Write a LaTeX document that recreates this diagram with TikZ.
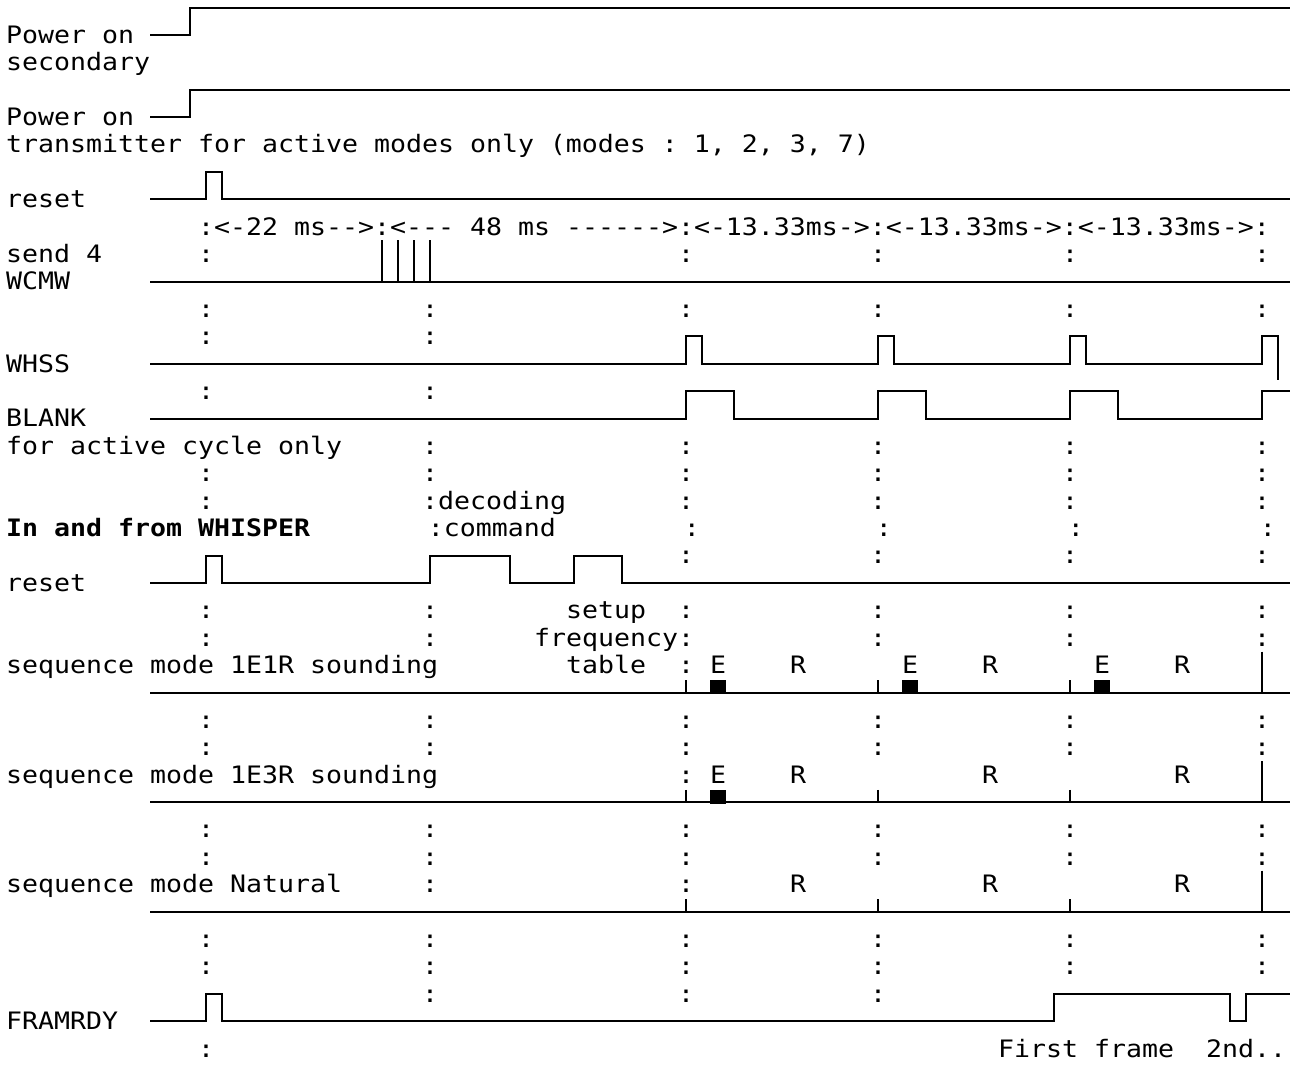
\documentclass[tikz,border=0pt]{standalone}
\usepackage{fontspec}
\setmonofont[FakeStretch=1.107]{DejaVu Sans Mono}
\usetikzlibrary{positioning}

\begin{document}
\begin{tikzpicture}[
        x=16pt, y=-27.4pt,
        font=\ttfamily\fontsize{24}{28}\selectfont,
        lbl/.style={
            anchor=base west,
            inner sep=0pt
        },
        sig/.style={
            line width=2pt,
            line join=miter
        },
        burst/.style={
            fill=black
        }
    ]

    \useasboundingbox (-0.875,-1.277) rectangle (79.75,37.59);

    % Signalnamen
    \node[lbl] (pwrsec) at (-0.5,0.3) {Power on};
    \node[lbl] (secondary) at (-0.5,1.3) {secondary};
    \node[lbl] (pwrtx) at (-0.5,3.3) {Power on};
    \node[lbl] (transmitter) at (-0.5,4.3) {transmitter for active modes only (modes : 1, 2, 3, 7)};
    \node[lbl] (resetA) at (-0.5,6.3) {reset};
    \node[lbl] (timing) at (11.5,7.3) {:<-22 ms-->:<--- 48 ms ------>:<-13.33ms->:<-13.33ms->:<-13.33ms->:};
    \node[lbl] (send) at (-0.5,8.3) {send 4};
    \node[lbl] (wcmw) at (-0.5,9.3) {WCMW};
    \node[lbl] (whss) at (-0.5,12.3) {WHSS};
    \node[lbl] (blank) at (-0.5,14.3) {BLANK};
    \node[lbl] (activecyc) at (-0.5,15.3) {for active cycle only};
    \node[lbl] (decoding) at (25.5,17.3) {:decoding};
    \node[lbl, font=\ttfamily\bfseries\fontsize{24}{28}\selectfont] (whisper) at (-0.5,18.3) {In and from WHISPER};
    \node[lbl] (command) at (25.85,18.3) {:command};
    \node[lbl] (resetB) at (-0.5,20.3) {reset};
    \node[lbl] (setup) at (34.5,21.3) {setup};
    \node[lbl] (frequency) at (32.5,22.3) {frequency:};
    \node[lbl] (table) at (34.5,23.3) {table};
    \node[lbl] (seqA) at (-0.5,23.3) {sequence mode 1E1R sounding};
    \node[lbl] (seqB) at (-0.5,27.3) {sequence mode 1E3R sounding};
    \node[lbl] (seqC) at (-0.5,31.3) {sequence mode Natural};
    \node[lbl] (framrdy) at (-0.5,36.3) {FRAMRDY};
    \node[lbl] (frames) at (61.5,37.3) {First frame\ \ 2nd..};

    % Punktlinien
    \foreach \r/\cols in {8/{12,42,54,66,78}, 10/{12,26,42,54,66,78}, 11/{12,26},
            13/{12,26}, 15/{26,42,54,66,78}, 16/{12,26,42,54,66,78},
            17/{12,42,54,66,78}, 19/{42,54,66,78}, 21/{12,26,42,54,66,78},
            22/{12,26,54,66,78}, 23/{42}, 25/{12,26,42,54,66,78},
            26/{12,26,42,54,66,78}, 27/{42}, 29/{12,26,42,54,66,78},
            30/{12,26,42,54,66,78}, 31/{26,42}, 33/{12,26,42,54,66,78},
            34/{12,26,42,54,66,78}, 35/{26,42,54}, 37/{12}}
        \foreach \c in \cols
            \node[lbl] (cl-\r-\c) at (\c-0.5,\r+0.3) {:};
    \foreach \c in {42,54,66,78}
        \node[lbl] (cs-\c) at (\c-0.15,18.3) {:};

    % E / R
    \foreach \r/\c/\t in {23/44/E, 23/49/R, 23/56/E, 23/61/R, 23/68/E, 23/73/R,
            27/44/E, 27/49/R, 27/61/R, 27/73/R, 31/49/R, 31/61/R, 31/73/R}
        \node[lbl] (er-\r-\c) at (\c-0.5,\r+0.3) {\t};

    % Kurven
    \draw[sig] (8.5,0) -- (11,0) -- (11,-1) -- (79.75,-1);
    \draw[sig] (8.5,3) -- (11,3) -- (11,2) -- (79.75,2);
    \draw[sig] (8.5,6) -- (12,6) -- (12,5) -- (13,5) -- (13,6) -- (79.75,6);
    \draw[sig] (8.5,9) -- (79.75,9);
    \foreach \c in {23,...,26}
        \draw[sig] (\c,7.5) -- (\c,9);
    \draw[sig] (8.5,12) -- (42,12) -- (42,11) -- (43,11) -- (43,12)
        -- (54,12) -- (54,11) -- (55,11) -- (55,12)
        -- (66,12) -- (66,11) -- (67,11) -- (67,12)
        -- (78,12) -- (78,11) -- (79,11) -- (79,12.6);
    \draw[sig] (8.5,14) -- (42,14) -- (42,13) -- (45,13) -- (45,14)
        -- (54,14) -- (54,13) -- (57,13) -- (57,14)
        -- (66,14) -- (66,13) -- (69,13) -- (69,14)
        -- (78,14) -- (78,13) -- (79.75,13);
    \draw[sig] (8.5,20) -- (12,20) -- (12,19) -- (13,19) -- (13,20)
        -- (26,20) -- (26,19) -- (31,19) -- (31,20)
        -- (35,20) -- (35,19) -- (38,19) -- (38,20) -- (79.75,20);
    \foreach \r in {24,28,32} {
        \draw[sig] (8.5,\r) -- (79.75,\r);
        \foreach \c in {42,54,66}
            \draw[sig] (\c,\r-0.45) -- (\c,\r);
        \draw[sig] (78,\r-1.5) -- (78,\r);
    }
    \foreach \r/\c in {24/44, 24/56, 24/68, 28/44}
        \fill[burst] (\c-0.5,\r-0.45) rectangle (\c+0.5,\r+0.05);
    \draw[sig] (8.5,36) -- (12,36) -- (12,35) -- (13,35) -- (13,36)
        -- (65,36) -- (65,35) -- (76,35) -- (76,36) -- (77,36) -- (77,35)
        -- (79.75,35);

\end{tikzpicture}
\end{document}
